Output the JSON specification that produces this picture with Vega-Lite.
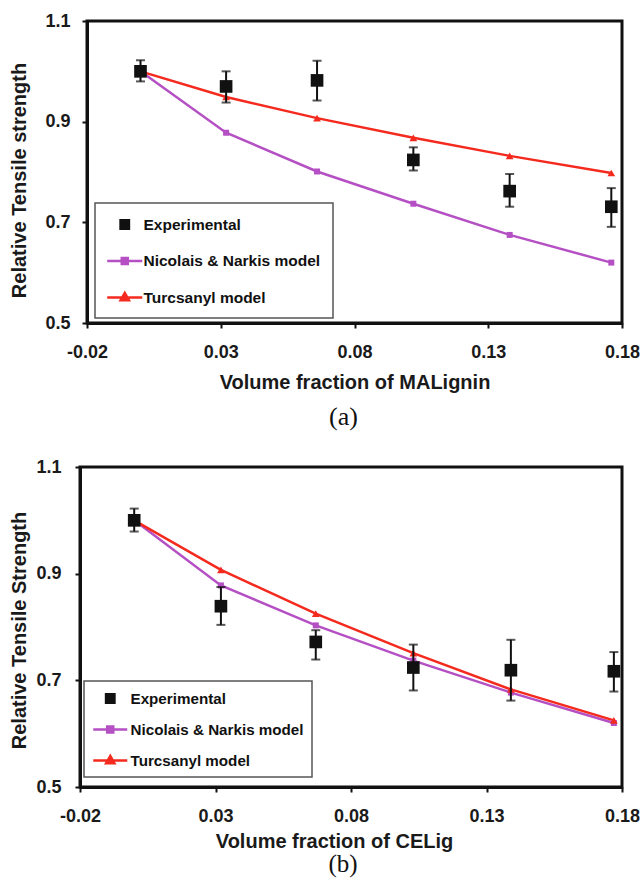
{
  "$schema": "https://vega.github.io/schema/vega-lite/v6.json",
  "background": "white",
  "padding": {"left": 8, "top": 10, "right": 0, "bottom": 0},
  "config": {
    "view": {"stroke": "#111111", "strokeWidth": 3},
    "axis": {
      "domainColor": "#111111", "domainWidth": 3, "tickColor": "#111111", "tickWidth": 2, "tickSize": 5,
      "labelFont": "Liberation Sans", "labelFontSize": 18, "labelFontWeight": "bold", "labelColor": "#1a1a1a",
      "titleFont": "Liberation Sans", "titleFontSize": 20, "titleFontWeight": "bold", "titleColor": "#1a1a1a",
      "grid": false, "labelFlush": false, "labelOverlap": false
    }
  },
  "datasets": {
    "a_exp": [
      {"x": 0.0, "y": 1.0, "lo": 0.98, "hi": 1.022, "series": "Experimental"},
      {"x": 0.032, "y": 0.97, "lo": 0.938, "hi": 1.0, "series": "Experimental"},
      {"x": 0.066, "y": 0.982, "lo": 0.942, "hi": 1.021, "series": "Experimental"},
      {"x": 0.102, "y": 0.824, "lo": 0.803, "hi": 0.849, "series": "Experimental"},
      {"x": 0.138, "y": 0.762, "lo": 0.731, "hi": 0.796, "series": "Experimental"},
      {"x": 0.176, "y": 0.731, "lo": 0.691, "hi": 0.768, "series": "Experimental"}
    ],
    "a_model": [
      {"x": 0.0, "y": 1.0, "series": "Nicolais & Narkis model"},
      {"x": 0.032, "y": 0.878, "series": "Nicolais & Narkis model"},
      {"x": 0.066, "y": 0.801, "series": "Nicolais & Narkis model"},
      {"x": 0.102, "y": 0.737, "series": "Nicolais & Narkis model"},
      {"x": 0.138, "y": 0.675, "series": "Nicolais & Narkis model"},
      {"x": 0.176, "y": 0.62, "series": "Nicolais & Narkis model"},
      {"x": 0.0, "y": 1.0, "series": "Turcsanyl model"},
      {"x": 0.032, "y": 0.949, "series": "Turcsanyl model"},
      {"x": 0.066, "y": 0.907, "series": "Turcsanyl model"},
      {"x": 0.102, "y": 0.868, "series": "Turcsanyl model"},
      {"x": 0.138, "y": 0.832, "series": "Turcsanyl model"},
      {"x": 0.176, "y": 0.798, "series": "Turcsanyl model"}
    ],
    "b_exp": [
      {"x": 0.0, "y": 1.0, "lo": 0.979, "hi": 1.022, "series": "Experimental"},
      {"x": 0.032, "y": 0.839, "lo": 0.804, "hi": 0.875, "series": "Experimental"},
      {"x": 0.067, "y": 0.772, "lo": 0.739, "hi": 0.794, "series": "Experimental"},
      {"x": 0.103, "y": 0.724, "lo": 0.681, "hi": 0.767, "series": "Experimental"},
      {"x": 0.139, "y": 0.719, "lo": 0.662, "hi": 0.776, "series": "Experimental"},
      {"x": 0.177, "y": 0.717, "lo": 0.679, "hi": 0.753, "series": "Experimental"}
    ],
    "b_model": [
      {"x": 0.0, "y": 1.0, "series": "Nicolais & Narkis model"},
      {"x": 0.032, "y": 0.878, "series": "Nicolais & Narkis model"},
      {"x": 0.067, "y": 0.803, "series": "Nicolais & Narkis model"},
      {"x": 0.103, "y": 0.737, "series": "Nicolais & Narkis model"},
      {"x": 0.139, "y": 0.677, "series": "Nicolais & Narkis model"},
      {"x": 0.177, "y": 0.62, "series": "Nicolais & Narkis model"},
      {"x": 0.0, "y": 1.0, "series": "Turcsanyl model"},
      {"x": 0.032, "y": 0.907, "series": "Turcsanyl model"},
      {"x": 0.067, "y": 0.825, "series": "Turcsanyl model"},
      {"x": 0.103, "y": 0.751, "series": "Turcsanyl model"},
      {"x": 0.139, "y": 0.683, "series": "Turcsanyl model"},
      {"x": 0.177, "y": 0.625, "series": "Turcsanyl model"}
    ]
  },
  "spacing": 24,
  "resolve": {"scale": {"color": "independent", "shape": "independent", "size": "independent"}, "legend": {"color": "independent"}},
  "vconcat": [
    {
      "hconcat": [
        {
          "width": 7, "height": 10,
          "data": {"values": [{}]},
          "mark": {"type": "point", "opacity": 0},
          "view": {"stroke": null}
        },
        {
          "width": 535, "height": 302,
          "title": {"text": "(a)", "orient": "bottom", "frame": "group", "anchor": "middle", "dx": -11, "font": "Liberation Serif", "fontSize": 26, "fontWeight": "normal", "color": "#111111", "offset": 12},
          "layer": [
            {
              "data": {"name": "a_model"},
              "mark": {"type": "line", "strokeWidth": 2.5},
              "encoding": {
                "x": {"field": "x", "type": "quantitative", "scale": {"domain": [-0.02, 0.18], "nice": false, "zero": false}, "axis": {"title": "Volume fraction of MALignin", "values": [-0.02, 0.03, 0.08, 0.13, 0.18], "labelExpr": "datum.value < 0 ? '-' + format(-datum.value, '.2f') : format(datum.value, '.2f')", "labelPadding": 15, "titlePadding": 11}},
                "y": {"field": "y", "type": "quantitative", "scale": {"domain": [0.5, 1.1], "nice": false, "zero": false}, "axis": {"title": "Relative Tensile strength", "values": [0.5, 0.7, 0.9, 1.1], "format": ".1f", "labelPadding": 12, "titlePadding": 15, "titleY": 159}},
                "color": {"field": "series", "type": "nominal", "scale": {"domain": ["Experimental", "Nicolais & Narkis model", "Turcsanyl model"], "range": ["#111111", "#b550c4", "#f52a1e"]},
                  "legend": {"title": null, "orient": "none", "legendX": 15, "legendY": 182, "direction": "vertical", "strokeColor": "#555555", "fillColor": "white", "padding": 12, "rowPadding": 17.5, "symbolSize": 256, "symbolOffset": 8.25, "labelOffset": 9.25, "labelFont": "Liberation Sans", "labelFontSize": 15.5, "labelFontWeight": "bold", "labelColor": "#111111", "labelLimit": 300,
                    "encode": {
                      "legend": {"update": {"strokeWidth": {"value": 1.5}}},
                      "symbols": {"update": {
                        "shape": {"signal": "datum.value == 'Experimental' ? 'square' : (datum.value == 'Turcsanyl model' ? 'M-2.19,0H2.19M0,-0.57L0.52,0.35H-0.52Z' : 'M-2.19,0H2.19M-0.375,-0.375H0.375V0.375H-0.375Z')"},
                        "size": {"signal": "datum.value == 'Experimental' ? 70 : 256"},
                        "fill": {"signal": "datum.value == 'Experimental' ? '#111111' : (datum.value == 'Turcsanyl model' ? '#f52a1e' : '#b550c4')"},
                        "stroke": {"signal": "datum.value == 'Experimental' ? '#111111' : (datum.value == 'Turcsanyl model' ? '#f52a1e' : '#b550c4')"},
                        "strokeWidth": {"value": 2.5}, "opacity": {"value": 1}, "fillOpacity": {"value": 1}, "strokeOpacity": {"value": 1}
                      }}
                    }}}
              }
            },
            {
              "data": {"name": "a_model"},
              "mark": {"type": "point", "filled": true, "opacity": 1},
              "encoding": {
                "x": {"field": "x", "type": "quantitative", "scale": {"domain": [-0.02, 0.18], "nice": false, "zero": false}, "axis": {"title": "Volume fraction of MALignin"}},
                "y": {"field": "y", "type": "quantitative", "scale": {"domain": [0.5, 1.1], "nice": false, "zero": false}, "axis": {"title": "Relative Tensile strength"}},
                "color": {"field": "series", "type": "nominal", "legend": null},
                "shape": {"field": "series", "type": "nominal", "scale": {"domain": ["Nicolais & Narkis model", "Turcsanyl model"], "range": ["square", "triangle-up"]}, "legend": null},
                "size": {"field": "series", "type": "nominal", "scale": {"domain": ["Nicolais & Narkis model", "Turcsanyl model"], "range": [36, 60]}, "legend": null}
              }
            },
            {
              "data": {"name": "a_exp"},
              "mark": {"type": "errorbar", "ticks": {"size": 9, "thickness": 2, "color": "#111111"}, "thickness": 2, "color": "#111111"},
              "encoding": {
                "x": {"field": "x", "type": "quantitative", "scale": {"domain": [-0.02, 0.18], "nice": false, "zero": false}, "axis": {"title": "Volume fraction of MALignin"}},
                "y": {"field": "lo", "type": "quantitative", "scale": {"domain": [0.5, 1.1], "nice": false, "zero": false}, "axis": {"title": "Relative Tensile strength"}},
                "y2": {"field": "hi"}
              }
            },
            {
              "data": {"name": "a_exp"},
              "mark": {"type": "square", "size": 160, "opacity": 1},
              "encoding": {
                "x": {"field": "x", "type": "quantitative", "scale": {"domain": [-0.02, 0.18], "nice": false, "zero": false}, "axis": {"title": "Volume fraction of MALignin"}},
                "y": {"field": "y", "type": "quantitative", "scale": {"domain": [0.5, 1.1], "nice": false, "zero": false}, "axis": {"title": "Relative Tensile strength"}},
                "color": {"field": "series", "type": "nominal"}
              }
            }
          ]
        }
      ],
      "spacing": 0,
      "bounds": "flush"
    },
    {
      "width": 542, "height": 320,
      "title": {"text": "(b)", "orient": "bottom", "frame": "group", "anchor": "middle", "dx": -8, "font": "Liberation Serif", "fontSize": 25, "fontWeight": "normal", "color": "#111111", "offset": 1},
      "layer": [
        {
          "data": {"name": "b_model"},
          "mark": {"type": "line", "strokeWidth": 2.5},
          "encoding": {
            "x": {"field": "x", "type": "quantitative", "scale": {"domain": [-0.02, 0.18], "nice": false, "zero": false}, "axis": {"title": "Volume fraction of CELig", "values": [-0.02, 0.03, 0.08, 0.13, 0.18], "labelExpr": "datum.value < 0 ? '-' + format(-datum.value, '.2f') : format(datum.value, '.2f')", "labelPadding": 15, "titlePadding": 6, "titleX": 254}},
            "y": {"field": "y", "type": "quantitative", "scale": {"domain": [0.5, 1.1], "nice": false, "zero": false}, "axis": {"title": "Relative Tensile Strength", "values": [0.5, 0.7, 0.9, 1.1], "format": ".1f", "labelPadding": 14, "titlePadding": 6, "titleY": 163}},
            "color": {"field": "series", "type": "nominal", "scale": {"domain": ["Experimental", "Nicolais & Narkis model", "Turcsanyl model"], "range": ["#111111", "#b550c4", "#f52a1e"]},
              "legend": {"title": null, "orient": "none", "legendX": 4, "legendY": 214, "direction": "vertical", "strokeColor": "#555555", "fillColor": "white", "padding": 8, "rowPadding": 12, "symbolSize": 256, "symbolOffset": 8.75, "labelOffset": 10.75, "labelFont": "Liberation Sans", "labelFontSize": 15.2, "labelFontWeight": "bold", "labelColor": "#111111", "labelLimit": 300,
                "encode": {
                  "legend": {"update": {"strokeWidth": {"value": 1.5}}},
                  "symbols": {"update": {
                    "shape": {"signal": "datum.value == 'Experimental' ? 'square' : (datum.value == 'Turcsanyl model' ? 'M-2.125,0H2.125M0,-0.57L0.52,0.35H-0.52Z' : 'M-2.125,0H2.125M-0.375,-0.375H0.375V0.375H-0.375Z')"},
                    "size": {"signal": "datum.value == 'Experimental' ? 70 : 256"},
                    "fill": {"signal": "datum.value == 'Experimental' ? '#111111' : (datum.value == 'Turcsanyl model' ? '#f52a1e' : '#b550c4')"},
                    "stroke": {"signal": "datum.value == 'Experimental' ? '#111111' : (datum.value == 'Turcsanyl model' ? '#f52a1e' : '#b550c4')"},
                    "strokeWidth": {"value": 2.5}, "opacity": {"value": 1}, "fillOpacity": {"value": 1}, "strokeOpacity": {"value": 1}
                  }}
                }}}
          }
        },
        {
          "data": {"name": "b_model"},
          "mark": {"type": "point", "filled": true, "opacity": 1},
          "encoding": {
            "x": {"field": "x", "type": "quantitative", "scale": {"domain": [-0.02, 0.18], "nice": false, "zero": false}, "axis": {"title": "Volume fraction of CELig"}},
            "y": {"field": "y", "type": "quantitative", "scale": {"domain": [0.5, 1.1], "nice": false, "zero": false}, "axis": {"title": "Relative Tensile Strength"}},
            "color": {"field": "series", "type": "nominal", "legend": null},
            "shape": {"field": "series", "type": "nominal", "scale": {"domain": ["Nicolais & Narkis model", "Turcsanyl model"], "range": ["square", "triangle-up"]}, "legend": null},
            "size": {"field": "series", "type": "nominal", "scale": {"domain": ["Nicolais & Narkis model", "Turcsanyl model"], "range": [36, 60]}, "legend": null}
          }
        },
        {
          "data": {"name": "b_exp"},
          "mark": {"type": "errorbar", "ticks": {"size": 9, "thickness": 2, "color": "#111111"}, "thickness": 2, "color": "#111111"},
          "encoding": {
            "x": {"field": "x", "type": "quantitative", "scale": {"domain": [-0.02, 0.18], "nice": false, "zero": false}, "axis": {"title": "Volume fraction of CELig"}},
            "y": {"field": "lo", "type": "quantitative", "scale": {"domain": [0.5, 1.1], "nice": false, "zero": false}, "axis": {"title": "Relative Tensile Strength"}},
            "y2": {"field": "hi"}
          }
        },
        {
          "data": {"name": "b_exp"},
          "mark": {"type": "square", "size": 160, "opacity": 1},
          "encoding": {
            "x": {"field": "x", "type": "quantitative", "scale": {"domain": [-0.02, 0.18], "nice": false, "zero": false}, "axis": {"title": "Volume fraction of CELig"}},
            "y": {"field": "y", "type": "quantitative", "scale": {"domain": [0.5, 1.1], "nice": false, "zero": false}, "axis": {"title": "Relative Tensile Strength"}},
            "color": {"field": "series", "type": "nominal"}
          }
        }
      ]
    }
  ]
}
